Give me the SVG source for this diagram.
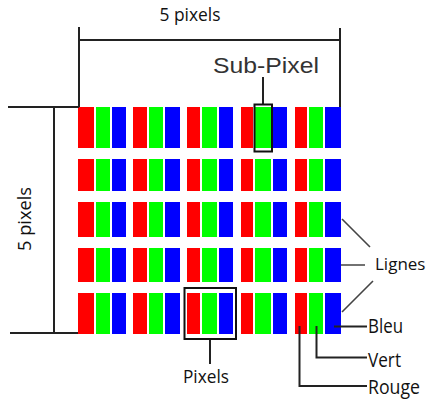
<svg xmlns="http://www.w3.org/2000/svg" width="429" height="400" viewBox="0 0 429 400">
<style>
.r{fill:#ff0000}.g{fill:#00ff00}.b{fill:#0000ff}
.ln{stroke:#222;stroke-width:2;fill:none}
.lg{stroke:#444;stroke-width:1.6;fill:none}
.box{stroke:#111;stroke-width:2;fill:none}
.t{font-family:"Open Sans","DejaVu Sans",sans-serif;fill:#111}
.s{font-family:"Liberation Sans",Arial,sans-serif;fill:#333}
</style>
<rect width="429" height="400" fill="#fff"/>
<g id="grid">
<g id="row1">
<rect class="r" x="78" y="107" width="16" height="41"/><rect class="g" x="96" y="107" width="14" height="41"/><rect class="b" x="112" y="107" width="14" height="41"/>
<rect class="r" x="133" y="107" width="14" height="41"/><rect class="g" x="149" y="107" width="14" height="41"/><rect class="b" x="165" y="107" width="15" height="41"/>
<rect class="r" x="187" y="107" width="13" height="41"/><rect class="g" x="202" y="107" width="15" height="41"/><rect class="b" x="219" y="107" width="14" height="41"/>
<rect class="r" x="241" y="107" width="12" height="41"/><rect class="g" x="255" y="107" width="16" height="41"/><rect class="b" x="273" y="107" width="14" height="41"/>
<rect class="r" x="295" y="107" width="12" height="41"/><rect class="g" x="309" y="107" width="14" height="41"/><rect class="b" x="325" y="107" width="16" height="41"/>
</g>
<g id="row2">
<rect class="r" x="78" y="159" width="16" height="32"/><rect class="g" x="96" y="159" width="14" height="32"/><rect class="b" x="112" y="159" width="14" height="32"/>
<rect class="r" x="133" y="159" width="14" height="32"/><rect class="g" x="149" y="159" width="14" height="32"/><rect class="b" x="165" y="159" width="15" height="32"/>
<rect class="r" x="187" y="159" width="13" height="32"/><rect class="g" x="202" y="159" width="15" height="32"/><rect class="b" x="219" y="159" width="14" height="32"/>
<rect class="r" x="241" y="159" width="12" height="32"/><rect class="g" x="255" y="159" width="16" height="32"/><rect class="b" x="273" y="159" width="14" height="32"/>
<rect class="r" x="295" y="159" width="12" height="32"/><rect class="g" x="309" y="159" width="14" height="32"/><rect class="b" x="325" y="159" width="16" height="32"/>
</g>
<g id="row3">
<rect class="r" x="78" y="202" width="16" height="35"/><rect class="g" x="96" y="202" width="14" height="35"/><rect class="b" x="112" y="202" width="14" height="35"/>
<rect class="r" x="133" y="202" width="14" height="35"/><rect class="g" x="149" y="202" width="14" height="35"/><rect class="b" x="165" y="202" width="15" height="35"/>
<rect class="r" x="187" y="202" width="13" height="35"/><rect class="g" x="202" y="202" width="15" height="35"/><rect class="b" x="219" y="202" width="14" height="35"/>
<rect class="r" x="241" y="202" width="12" height="35"/><rect class="g" x="255" y="202" width="16" height="35"/><rect class="b" x="273" y="202" width="14" height="35"/>
<rect class="r" x="295" y="202" width="12" height="35"/><rect class="g" x="309" y="202" width="14" height="35"/><rect class="b" x="325" y="202" width="16" height="35"/>
</g>
<g id="row4">
<rect class="r" x="78" y="248" width="16" height="34"/><rect class="g" x="96" y="248" width="14" height="34"/><rect class="b" x="112" y="248" width="14" height="34"/>
<rect class="r" x="133" y="248" width="14" height="34"/><rect class="g" x="149" y="248" width="14" height="34"/><rect class="b" x="165" y="248" width="15" height="34"/>
<rect class="r" x="187" y="248" width="13" height="34"/><rect class="g" x="202" y="248" width="15" height="34"/><rect class="b" x="219" y="248" width="14" height="34"/>
<rect class="r" x="241" y="248" width="12" height="34"/><rect class="g" x="255" y="248" width="16" height="34"/><rect class="b" x="273" y="248" width="14" height="34"/>
<rect class="r" x="295" y="248" width="12" height="34"/><rect class="g" x="309" y="248" width="14" height="34"/><rect class="b" x="325" y="248" width="16" height="34"/>
</g>
<g id="row5">
<rect class="r" x="78" y="293" width="16" height="41"/><rect class="g" x="96" y="293" width="14" height="41"/><rect class="b" x="112" y="293" width="14" height="41"/>
<rect class="r" x="133" y="293" width="14" height="41"/><rect class="g" x="149" y="293" width="14" height="41"/><rect class="b" x="165" y="293" width="15" height="41"/>
<rect class="r" x="187" y="293" width="13" height="41"/><rect class="g" x="202" y="293" width="15" height="41"/><rect class="b" x="219" y="293" width="14" height="41"/>
<rect class="r" x="241" y="293" width="12" height="41"/><rect class="g" x="255" y="293" width="16" height="41"/><rect class="b" x="273" y="293" width="14" height="41"/>
<rect class="r" x="295" y="293" width="12" height="41"/><rect class="g" x="309" y="293" width="14" height="41"/><rect class="b" x="325" y="293" width="16" height="41"/>
</g>
</g>
<g id="connectors">
<path class="ln" d="M79 27V107M340 28V107M79 40H340"/>
<path class="ln" d="M8 107H79M54 107V333M10 333H78"/>
<path class="ln" d="M263 77V104"/>
<path class="ln" d="M210 339V364"/>
<path class="lg" d="M342 219L370 247M341 265H365M342 312L373 281"/>
<path class="ln" d="M334 326.5H367M316.5 326V357.5H367M299.5 326V386H367"/>
</g>
<g id="subpixel-box"><rect class="box" x="254.5" y="104.5" width="17.5" height="47"/></g>
<g id="pixels-box"><rect class="box" x="184.5" y="288" width="51.5" height="51"/></g>
<g id="labels">
<text class="t" x="190" y="21" font-size="18.5" text-anchor="middle" textLength="61" lengthAdjust="spacingAndGlyphs">5 pixels</text>
<text class="t" transform="translate(31 219) rotate(-90)" font-size="18.5" text-anchor="middle" textLength="64" lengthAdjust="spacingAndGlyphs">5 pixels</text>
<text class="s" x="213" y="73" font-size="22.5" textLength="106" lengthAdjust="spacingAndGlyphs">Sub-Pixel</text>
<text class="t" x="206" y="383" font-size="18" text-anchor="middle" textLength="46" lengthAdjust="spacingAndGlyphs">Pixels</text>
<text class="t" x="375" y="270" font-size="17">Lignes</text>
<text class="t" x="368" y="333" font-size="19.5" textLength="35" lengthAdjust="spacingAndGlyphs">Bleu</text>
<text class="t" x="368" y="366.5" font-size="19.5" textLength="33" lengthAdjust="spacingAndGlyphs">Vert</text>
<text class="t" x="368" y="394" font-size="19.5" textLength="52" lengthAdjust="spacingAndGlyphs">Rouge</text>
</g>
</svg>
